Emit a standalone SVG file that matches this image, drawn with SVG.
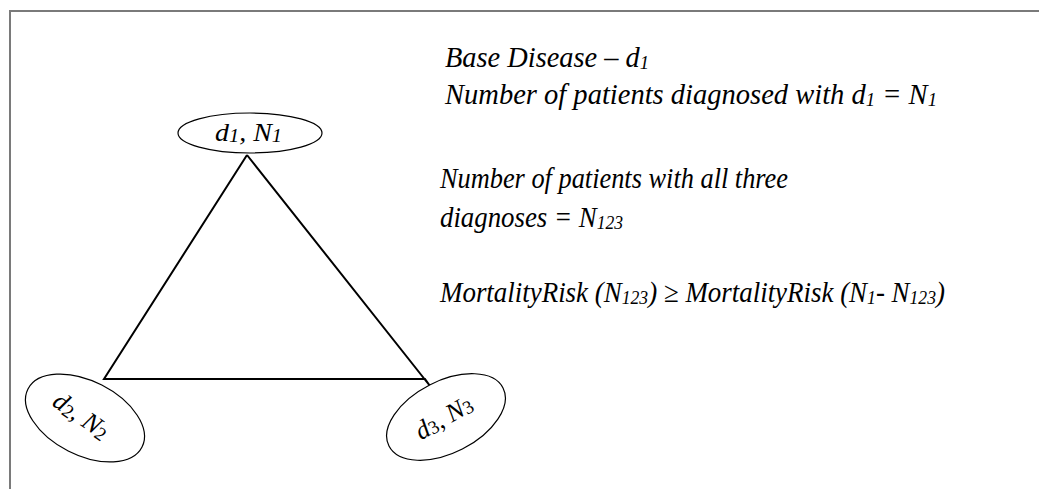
<svg xmlns="http://www.w3.org/2000/svg" width="1039" height="489" viewBox="0 0 1039 489">
<style>
.frame{fill:none;stroke:#7a7a7a;stroke-width:2}
.node{fill:#fff;stroke:#000;stroke-width:1.2}
.edge{fill:none;stroke:#000;stroke-width:2}
.t{font-family:"Liberation Serif","Times New Roman",serif;font-style:italic;fill:#000}
.big{font-size:29px}
.lab{font-size:26px}
.sub{font-size:19px}
.up{font-style:normal}
</style>
<rect width="1039" height="489" fill="#fff"/>
<path class="frame" d="M10 489 V11 H1039"/>
<g id="connectors">
<path class="edge" d="M247 155 L104 379 L425 379 L430 386 M247 155 L430 386"/>
</g>
<g id="node-d1">
<ellipse class="node" cx="250" cy="133" rx="72" ry="20"/>
<text class="t lab" x="215" y="141" textLength="67" lengthAdjust="spacingAndGlyphs">d<tspan class="sub" dy="1">1</tspan><tspan dy="-1">, N</tspan><tspan class="sub" dy="1">1</tspan></text>
</g>
<g id="node-d2">
<ellipse class="node" cx="85" cy="418" rx="64" ry="37" transform="rotate(27 85 418)"/>
<text class="t lab" x="0" y="8" text-anchor="middle" transform="translate(81 416) rotate(35)">d<tspan class="sub up" dy="2">2</tspan><tspan dy="-2">, N</tspan><tspan class="sub up" dy="2">2</tspan></text>
</g>
<g id="node-d3">
<ellipse class="node" cx="446" cy="417" rx="64" ry="36" transform="rotate(-27 446 417)"/>
<text class="t lab" x="0" y="8" text-anchor="middle" transform="translate(444 418) rotate(-30)">d<tspan class="sub up" dy="1">3</tspan><tspan dy="-1">, N</tspan><tspan class="sub up" dy="1">3</tspan></text>
</g>
<g id="notes">
<text class="t big" x="445" y="67" textLength="204" lengthAdjust="spacingAndGlyphs">Base Disease – d<tspan class="sub" dy="2">1</tspan></text>
<text class="t big" x="445" y="104" textLength="492" lengthAdjust="spacingAndGlyphs">Number of patients diagnosed with d<tspan class="sub" dy="2">1</tspan><tspan dy="-2"> = N</tspan><tspan class="sub" dy="2">1</tspan></text>
<text class="t big" x="440" y="188" textLength="348" lengthAdjust="spacingAndGlyphs">Number of patients with all three</text>
<text class="t big" x="440" y="227" textLength="183" lengthAdjust="spacingAndGlyphs">diagnoses = N<tspan class="sub" dy="2">123</tspan></text>
<text class="t big" x="440" y="302" textLength="505" lengthAdjust="spacingAndGlyphs">MortalityRisk (N<tspan class="sub" dy="2">123</tspan><tspan dy="-2">) ≥ MortalityRisk (N</tspan><tspan class="sub" dy="2">1</tspan><tspan dy="-2">- N</tspan><tspan class="sub" dy="2">123</tspan><tspan dy="-2">)</tspan></text>
</g>
</svg>
